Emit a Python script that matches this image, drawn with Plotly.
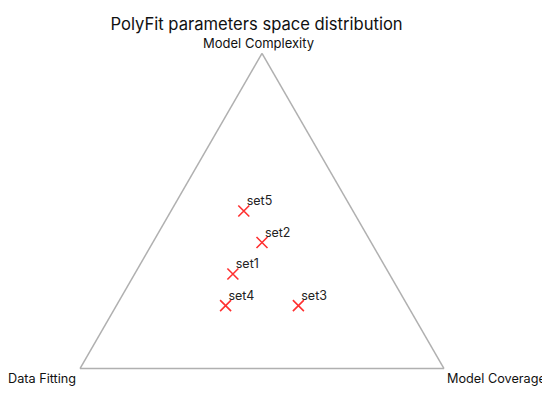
import plotly.graph_objects as go

labels = ["set1", "set2", "set3", "set4", "set5"]
model_complexity = [0.30, 0.40, 0.20, 0.20, 0.50]
data_fitting = [0.43, 0.30, 0.30, 0.50, 0.30]
model_coverage = [0.27, 0.30, 0.50, 0.30, 0.20]
axis_titles = ["Model Complexity", "Data Fitting", "Model Coverage"]

FONT = "Inter, Open Sans, sans-serif"
L, R, T, B = 72, 114, 44, 33
W, H = 550, 395
PW, PH = W - L - R, H - T - B


def px2paper(px, py):
    return (px - L) / PW, (H - B - py) / PH


fig = go.Figure()
fig.add_trace(go.Scatterternary(
    a=model_complexity, b=data_fitting, c=model_coverage,
    mode="markers",
    marker=dict(symbol="x-thin", size=11, line=dict(color="#ff3030", width=1.6), color="#ff3030"),
    showlegend=False,
    cliponaxis=False,
    hoverinfo="skip",
))
fig.add_trace(go.Scatterternary(
    a=model_complexity, b=data_fitting, c=model_coverage,
    mode="markers+text",
    text=labels,
    textposition="top right",
    textfont=dict(family=FONT, size=12.5, color="#222222"),
    marker=dict(size=3, color="rgba(0,0,0,0)", line=dict(width=0)),
    showlegend=False,
    cliponaxis=False,
))

axis_common = dict(
    showgrid=False, showticklabels=False, ticks="",
    linecolor="#b0b0b0", linewidth=1.5, min=0,
)

title_pos = [(250, 35), (34, 370), (488, 370)]
title_sizes = [13, 12.7, 12.7]
annotations = []
for txt, (px, py), fs in zip(axis_titles, title_pos, title_sizes):
    x, y = px2paper(px, py)
    annotations.append(dict(text=txt, x=x, y=y, xref="paper", yref="paper",
                            xanchor="center", yanchor="middle", showarrow=False,
                            font=dict(family=FONT, size=fs, color="#111111")))

fig.update_layout(
    width=W, height=H,
    paper_bgcolor="white",
    margin=dict(l=L, r=R, t=T, b=B),
    title=dict(text="PolyFit parameters space distribution", x=0.452, xanchor="center",
               y=0.96, yanchor="middle",
               font=dict(family=FONT, size=16.6, color="#111111")),
    ternary=dict(
        bgcolor="white",
        sum=1,
        aaxis=dict(title=dict(text=""), **axis_common),
        baxis=dict(title=dict(text=""), **axis_common),
        caxis=dict(title=dict(text=""), **axis_common),
    ),
    annotations=annotations,
)

fig.write_html("out.html")
